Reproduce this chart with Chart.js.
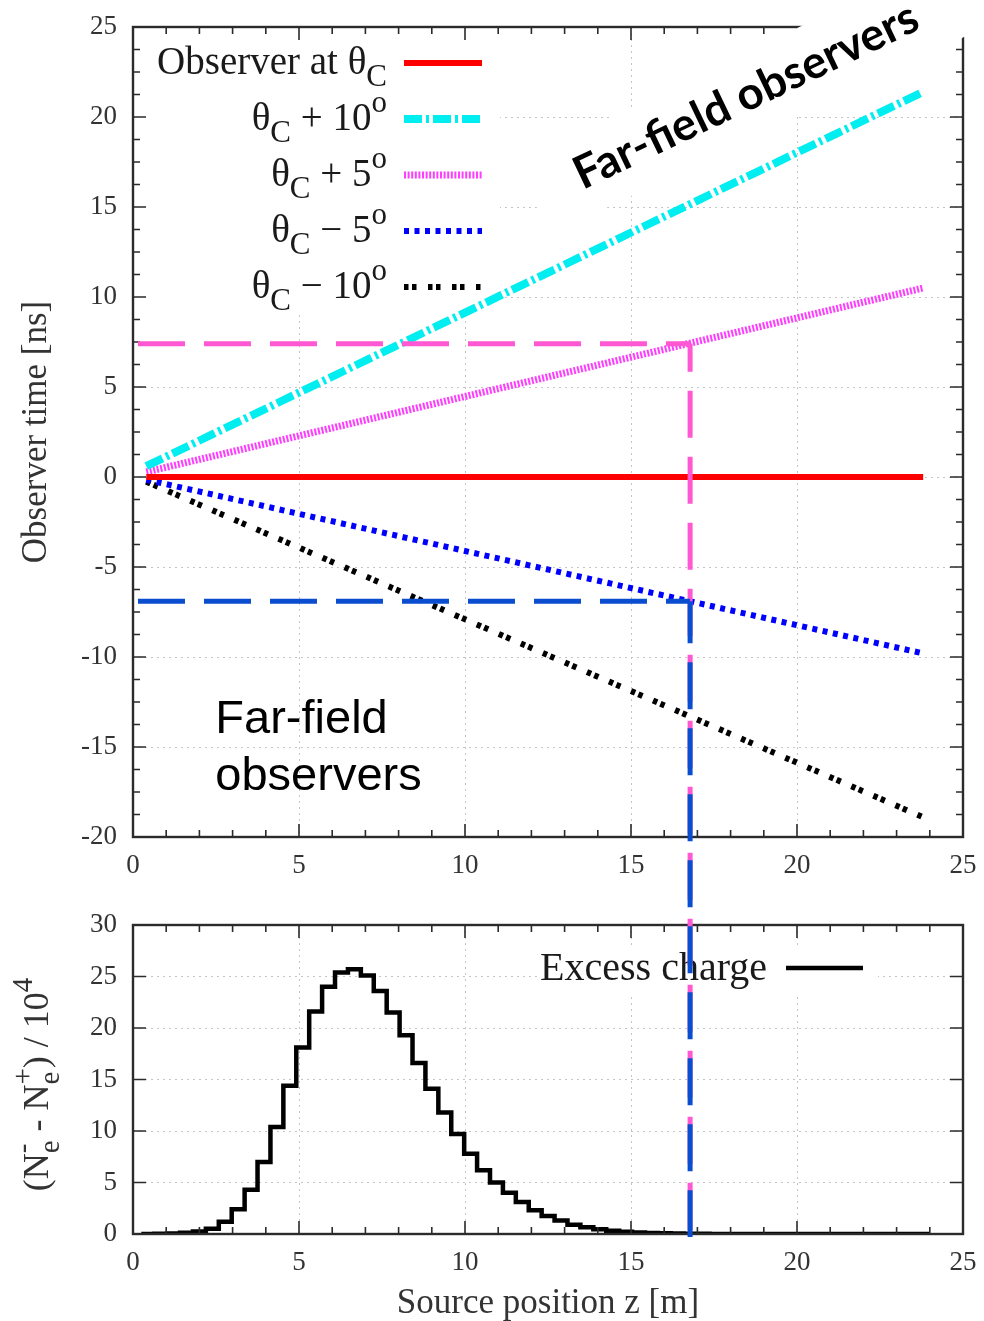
<!DOCTYPE html>
<html>
<head>
<meta charset="utf-8">
<script src="https://cdn.jsdelivr.net/npm/chart.js@4.4.0/dist/chart.umd.min.js"></script>
<style>
  body { margin: 0; background: #fff; }
  #wrap { position: relative; width: 984px; height: 1321px; }
  #wrap canvas { position: absolute; left: 0; top: 0; }
  #timeChart { z-index: 2; pointer-events: none; }
</style>
</head>
<body>
<div id="wrap">
  <canvas id="chargeChart" width="984" height="1321"></canvas>
  <canvas id="timeChart" width="984" height="1321"></canvas>
</div>
<script>
// source positions where the observer time curves start and end [m]
const zTrack = [0.4, 23.8];

// observer time [ns] at those positions, one list per observer angle
const tAtCherenkov = [0, 0];
const tPlus10 = [0.6, 21.4];
const tPlus5 = [0.28, 10.5];
const tMinus5 = [-0.15, -9.8];
const tMinus10 = [-0.26, -18.9];

// guide lines: source position range and the times read for the +5 / -5 observers
const guideZ = [0.15, 16.78];
const guideTimes = [7.4, -6.9];

// excess charge (N_e- - N_e+) / 10^4, histogram bins along z
const binStart = 0.25;
const binWidth = 0.389;
const excessCharge = [
  0, 0.02, 0.05, 0.12, 0.25, 0.5, 1.2, 2.4, 4.3, 7.0,
  10.4, 14.4, 18.1, 21.6, 24.0, 25.4, 25.7, 25.1, 23.6, 21.5,
  19.3, 16.6, 14.1, 11.8, 9.7, 7.8, 6.2, 5.0, 4.0, 3.1,
  2.3, 1.75, 1.3, 0.9, 0.65, 0.45, 0.32, 0.22, 0.15, 0.1,
  0.07, 0.05, 0.03, 0.02, 0.01, 0, 0, 0, 0, 0,
  0, 0, 0, 0, 0, 0, 0, 0, 0, 0, 0
];

// tick labels
const zTickValues = [0, 5, 10, 15, 20, 25];
const timeTickValues = [-20, -15, -10, -5, 0, 5, 10, 15, 20, 25];
const chargeTickValues = [0, 5, 10, 15, 20, 25, 30];

const serif = "'Liberation Serif', 'Times New Roman', serif";
const tickColor = '#333';
const gridColor = '#c4c4c4';
const frameColor = '#2b2b2b';

function isMajor(v, step) {
  return Math.abs(v / step - Math.round(v / step)) < 1e-6;
}

// keep the plot box exactly where the layout padding puts it
function fixX(height) {
  return s => { s.height = height; s.paddingLeft = 0; s.paddingRight = 0; };
}
function fixY(width) {
  return s => { s.width = width; s.paddingTop = 0; s.paddingBottom = 0; };
}

// box around the plot with inward major/minor ticks on all sides
function drawFrame(chart, opts) {
  const { ctx, chartArea: a, scales: { x, y } } = chart;
  ctx.save();
  ctx.setLineDash([]);
  ctx.strokeStyle = frameColor;
  ctx.lineWidth = 1.6;
  ctx.beginPath();
  for (let v = x.min; v <= x.max + 1e-9; v += opts.xMinor) {
    const len = isMajor(v, opts.xMajor) ? 13 : 7;
    const px = x.getPixelForValue(v);
    ctx.moveTo(px, a.bottom); ctx.lineTo(px, a.bottom - len);
    ctx.moveTo(px, a.top); ctx.lineTo(px, a.top + len);
  }
  for (let v = y.min; v <= y.max + 1e-9; v += opts.yMinor) {
    const len = isMajor(v, opts.yMajor) ? 13 : 7;
    const py = y.getPixelForValue(v);
    ctx.moveTo(a.left, py); ctx.lineTo(a.left + len, py);
    ctx.moveTo(a.right, py); ctx.lineTo(a.right - len, py);
  }
  ctx.stroke();
  ctx.lineWidth = 2.4;
  ctx.strokeRect(a.left, a.top, a.right - a.left, a.bottom - a.top);
  ctx.restore();
}

// text with subscripts / superscripts; returns its width
function richRun(ctx, parts, x, y, size, draw) {
  let cx = x;
  const small = Math.round(size * 0.8);
  for (const p of parts) {
    if (typeof p === 'string') {
      ctx.font = size + 'px ' + serif;
      if (draw) ctx.fillText(p, cx, y);
      cx += ctx.measureText(p).width;
    } else {
      ctx.font = small + 'px ' + serif;
      let w = 0;
      if (p.sub) {
        if (draw) ctx.fillText(p.sub, cx, y + size * 0.3);
        w = Math.max(w, ctx.measureText(p.sub).width);
      }
      if (p.sup) {
        if (draw) ctx.fillText(p.sup, cx, y - size * 0.45);
        w = Math.max(w, ctx.measureText(p.sup).width);
      }
      cx += w;
    }
  }
  return cx - x;
}

function sampleLine(ctx, ds, x0, x1, y) {
  ctx.save();
  ctx.strokeStyle = ds.borderColor;
  ctx.lineWidth = ds.borderWidth;
  ctx.setLineDash(ds.borderDash || []);
  ctx.lineCap = 'butt';
  ctx.beginPath();
  ctx.moveTo(x0, y);
  ctx.lineTo(x1, y);
  ctx.stroke();
  ctx.restore();
}

// ---------- lower panel: excess charge histogram ----------
const chargePoints = excessCharge.map((v, k) => ({ x: binStart + k * binWidth, y: v }));
chargePoints.push({ x: binStart + excessCharge.length * binWidth, y: excessCharge[excessCharge.length - 1] });

const chargePanel = {
  id: 'chargePanel',
  beforeDatasetsDraw(chart) {
    // opaque key background
    const { ctx, chartArea: a } = chart;
    ctx.save();
    ctx.fillStyle = '#fff';
    ctx.fillRect(a.left + 405, a.top + 20, 340, 52);
    ctx.restore();
  },
  afterDatasetsDraw(chart) {
    drawFrame(chart, { xMinor: 1, xMajor: 5, yMinor: 5, yMajor: 5 });
  },
  afterDraw(chart) {
    const { ctx, chartArea: a } = chart;
    const ds = chart.data.datasets[0];
    ctx.save();
    ctx.fillStyle = '#1a1a1a';
    ctx.textBaseline = 'alphabetic';
    const rowY = a.top + 43;
    const w = richRun(ctx, [ds.label], 0, 0, 40, false);
    richRun(ctx, [ds.label], a.left + 634 - w, rowY + 12, 40, true);
    sampleLine(ctx, ds, a.left + 653, a.left + 730, rowY);

    // rotated y title
    const title = ['(N', { sub: 'e', sup: '-' }, ' - N', { sub: 'e', sup: '+' }, ') / 10', { sup: '4' }];
    ctx.fillStyle = '#333';
    ctx.translate(48, (a.top + a.bottom) / 2 + 5);
    ctx.rotate(-Math.PI / 2);
    const tw = richRun(ctx, title, 0, 0, 36, false);
    richRun(ctx, title, -tw / 2, 0, 36, true);
    ctx.restore();
  }
};

const chargeChart = new Chart(document.getElementById('chargeChart'), {
  type: 'line',
  data: {
    datasets: [{
      label: 'Excess charge',
      data: chargePoints,
      stepped: true,
      borderColor: '#000',
      borderWidth: 4.5,
      pointRadius: 0,
      fill: false
    }]
  },
  options: {
    responsive: false,
    animation: false,
    events: [],
    layout: { padding: { top: 925, right: 21, bottom: 0, left: 0 } },
    plugins: { legend: { display: false }, tooltip: { enabled: false } },
    scales: {
      x: {
        type: 'linear', min: 0, max: 25,
        afterBuildTicks: s => { s.ticks = zTickValues.map(v => ({ value: v })); },
        afterFit: fixX(87),
        grid: { color: gridColor, lineWidth: 1, drawTicks: false },
        border: { display: false, dash: [2, 4] },
        ticks: { padding: 13, color: tickColor, font: { family: serif, size: 27 }, maxRotation: 0, autoSkip: false },
        title: {
          display: true, text: 'Source position z [m]', color: '#333',
          font: { family: serif, size: 35, lineHeight: 1 }, padding: { top: 0, bottom: 0 }
        }
      },
      y: {
        type: 'linear', min: 0, max: 30,
        afterBuildTicks: s => { s.ticks = chargeTickValues.map(v => ({ value: v })); },
        afterFit: fixY(133),
        grid: { color: gridColor, lineWidth: 1, drawTicks: false },
        border: { display: false, dash: [2, 4] },
        ticks: { padding: 16, color: tickColor, font: { family: serif, size: 27 } }
      }
    }
  },
  plugins: [chargePanel]
});

// ---------- upper panel: observer time vs source position ----------
const observers = [
  { label: 'Observer at θC', rich: ['Observer at θ', { sub: 'C' }], t: tAtCherenkov,
    color: '#ff0000', dash: [], width: 6 },
  { label: 'θC + 10°', rich: ['θ', { sub: 'C' }, ' + 10', { sup: 'o' }], t: tPlus10,
    color: '#00eef0', dash: [18, 4, 3, 4], width: 8 },
  { label: 'θC + 5°', rich: ['θ', { sub: 'C' }, ' + 5', { sup: 'o' }], t: tPlus5,
    color: '#ff3cff', dash: [2, 1.6], width: 7 },
  { label: 'θC − 5°', rich: ['θ', { sub: 'C' }, ' − 5', { sup: 'o' }], t: tMinus5,
    color: '#0000ff', dash: [5, 5.5], width: 6 },
  { label: 'θC − 10°', rich: ['θ', { sub: 'C' }, ' − 10', { sup: 'o' }], t: tMinus10,
    color: '#000000', dash: [4.5, 3.5, 4.5, 11.5], width: 6 }
];

const timePanel = {
  id: 'timePanel',
  beforeDatasetsDraw(chart) {
    // opaque key background
    const { ctx, chartArea: a } = chart;
    ctx.save();
    ctx.fillStyle = '#fff';
    ctx.fillRect(a.left + 2, a.top + 2, 365, 286);
    ctx.restore();
  },
  afterDatasetsDraw(chart) {
    drawFrame(chart, { xMinor: 1, xMajor: 5, yMinor: 1.25, yMajor: 5 });
  },
  afterDraw(chart) {
    const { ctx, chartArea: a, scales: { x, y } } = chart;

    // key
    ctx.save();
    ctx.fillStyle = '#1a1a1a';
    ctx.textBaseline = 'alphabetic';
    chart.data.datasets.forEach((ds, i) => {
      const rowY = a.top + 36 + 56 * i;
      const w = richRun(ctx, ds.rich, 0, 0, 39, false);
      richRun(ctx, ds.rich, a.left + 254 - w, rowY + 11, 39, true);
      sampleLine(ctx, ds, a.left + 271, a.left + 349, rowY);
    });
    ctx.restore();

    // guide lines down to the charge axis
    const bottomY = chargeChart.scales.y.getPixelForValue(0) + 3;
    const gx0 = x.getPixelForValue(guideZ[0]);
    const gx1 = x.getPixelForValue(guideZ[1]);
    const guideColors = ['#ff58d2', '#0a4ecf'];
    const vOffsets = [19, 5];
    ctx.save();
    ctx.lineWidth = 5;
    ctx.lineCap = 'butt';
    guideTimes.forEach((t, i) => {
      const gy = y.getPixelForValue(t);
      ctx.strokeStyle = guideColors[i];
      ctx.setLineDash([47, 19]);
      ctx.lineDashOffset = 0;
      ctx.beginPath();
      ctx.moveTo(gx0, gy);
      ctx.lineTo(gx1, gy);
      ctx.stroke();
      ctx.lineDashOffset = vOffsets[i];
      ctx.beginPath();
      ctx.moveTo(gx1, gy);
      ctx.lineTo(gx1, bottomY);
      ctx.stroke();
    });
    ctx.restore();

    // lower text label
    ctx.save();
    ctx.fillStyle = '#000';
    ctx.font = "47px 'Liberation Sans', Arial, sans-serif";
    ctx.textBaseline = 'alphabetic';
    const lx = x.getPixelForValue(2.48);
    const ly = y.getPixelForValue(-14.2);
    ctx.fillText('Far-field', lx, ly);
    ctx.fillText('observers', lx, ly + 57);
    ctx.restore();

    // rotated label on a white box, above the frame
    ctx.save();
    ctx.translate(x.getPixelForValue(13.55), y.getPixelForValue(15.94));
    ctx.rotate(-25.5 * Math.PI / 180);
    ctx.fillStyle = '#fff';
    ctx.fillRect(-49, -54, 474, 80);
    ctx.font = "bold 40px Lato, 'Open Sans', sans-serif";
    const fw = ctx.measureText('Far-field observers').width;
    const fs = 40 * 376 / fw;
    ctx.font = 'bold ' + fs.toFixed(1) + "px Lato, 'Open Sans', sans-serif";
    ctx.fillStyle = '#000';
    ctx.textBaseline = 'alphabetic';
    ctx.fillText('Far-field observers', 0, 0);
    ctx.restore();
  }
};

const timeChart = new Chart(document.getElementById('timeChart'), {
  type: 'line',
  data: {
    datasets: observers.map(o => ({
      label: o.label,
      rich: o.rich,
      data: zTrack.map((z, i) => ({ x: z, y: o.t[i] })),
      borderColor: o.color,
      borderDash: o.dash,
      borderWidth: o.width,
      borderCapStyle: 'butt',
      pointRadius: 0,
      fill: false
    }))
  },
  options: {
    responsive: false,
    animation: false,
    events: [],
    layout: { padding: { top: 27, right: 21, bottom: 424, left: 0 } },
    plugins: { legend: { display: false }, tooltip: { enabled: false } },
    scales: {
      x: {
        type: 'linear', min: 0, max: 25,
        afterBuildTicks: s => { s.ticks = zTickValues.map(v => ({ value: v })); },
        afterFit: fixX(60),
        grid: { color: gridColor, lineWidth: 1, drawTicks: false },
        border: { display: false, dash: [2, 4] },
        ticks: { padding: 13, color: tickColor, font: { family: serif, size: 27 }, maxRotation: 0, autoSkip: false }
      },
      y: {
        type: 'linear', min: -20, max: 25,
        afterBuildTicks: s => { s.ticks = timeTickValues.map(v => ({ value: v })); },
        afterFit: fixY(133),
        grid: { color: gridColor, lineWidth: 1, drawTicks: false },
        border: { display: false, dash: [2, 4] },
        ticks: { padding: 16, color: tickColor, font: { family: serif, size: 27 } },
        title: {
          display: true, text: 'Observer time [ns]', color: '#333',
          font: { family: serif, size: 35, lineHeight: 1.2 }, padding: { top: 16, bottom: 0 }
        }
      }
    }
  },
  plugins: [timePanel]
});
</script>
</body>
</html>
